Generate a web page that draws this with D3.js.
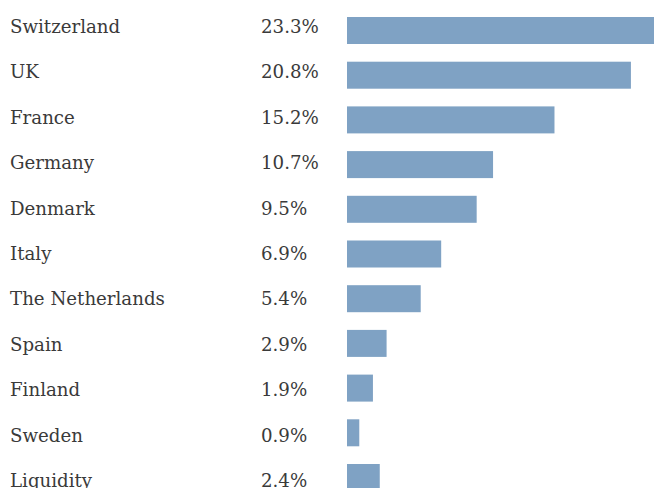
<!DOCTYPE html>
<html><head><meta charset="utf-8">
<script src="https://cdn.jsdelivr.net/npm/d3@7"></script>
<style>html,body{margin:0;padding:0;background:#fff;overflow:hidden}</style>
</head><body>
<svg id="c" width="654" height="488"></svg>
<script>
const categories = ["Switzerland","UK","France","Germany","Denmark","Italy","The Netherlands","Spain","Finland","Sweden","Liquidity"];
const values = [23.3,20.8,15.2,10.7,9.5,6.9,5.4,2.9,1.9,0.9,2.4];
const valueLabels = ["23.3%","20.8%","15.2%","10.7%","9.5%","6.9%","5.4%","2.9%","1.9%","0.9%","2.4%"];

const svg = d3.select("#c");
const step = 44.7, p = 0.396;
const y0 = 17 - step*p/2;
const y = d3.scaleBand().domain(categories).range([y0, y0 + categories.length*step]).paddingInner(p).paddingOuter(p/2);
// text rows (baselines)
const ty = d3.scalePoint().domain(categories).range([32.7, 32.7 + 45.45*(categories.length-1)]);
const x = d3.scaleLinear().domain([0, 25]).range([347, 347 + 25*13.65]);

const rows = svg.selectAll("g.row").data(categories).join("g").attr("class","row");
rows.append("rect")
  .attr("x", x(0))
  .attr("y", d => y(d))
  .attr("width", (d,i) => x(values[i]) - x(0))
  .attr("height", y.bandwidth())
  .attr("fill", "#7fa2c4");
rows.append("text")
  .attr("x", 10)
  .attr("y", d => ty(d))
  .attr("font-family", "DejaVu Serif")
  .attr("font-size", 18.2)
  .attr("fill", "#3a3a3a")
  .text(d => d);
rows.append("text")
  .attr("x", 261)
  .attr("y", d => ty(d))
  .attr("font-family", "DejaVu Serif")
  .attr("font-size", 18.2)
  .attr("fill", "#3a3a3a")
  .text((d,i) => valueLabels[i]);
</script>
</body></html>
